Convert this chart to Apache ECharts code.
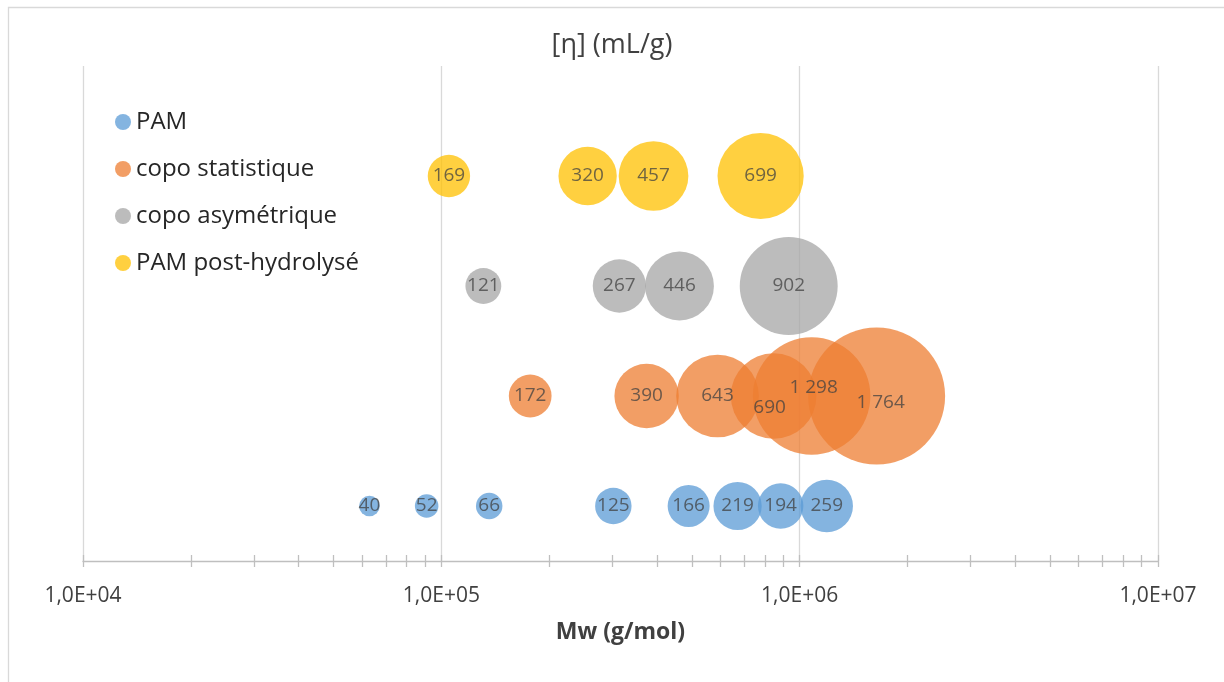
<!DOCTYPE html>
<html><head><meta charset="utf-8">
<script src="https://cdn.jsdelivr.net/npm/echarts@6/dist/echarts.min.js"></script>
<style>html,body{margin:0;padding:0;background:#fff}#c{width:1224px;height:682px}</style>
</head><body><div id="c"></div>
<script>
// ---- data ----
const seriesNames = ['PAM', 'copo statistique', 'copo asymétrique', 'PAM post-hydrolysé'];
const seriesRows = [1, 2, 3, 4];
const pamMw = [63000, 91000, 136000, 302000, 490000, 671000, 885000, 1190000];
const pamEta = [40, 52, 66, 125, 166, 219, 194, 259];
const statMw = [177000, 374000, 590000, 846000, 1080000, 1640000];
const statEta = [172, 390, 643, 690, 1298, 1764];
const asymMw = [131000, 314000, 462000, 932000];
const asymEta = [121, 267, 446, 902];
const hydroMw = [105000, 256000, 391000, 778000];
const hydroEta = [169, 320, 457, 699];
const xTickLabels = ['1,0E+04', '1,0E+05', '1,0E+06', '1,0E+07'];
const xDecades = [1e4, 1e5, 1e6, 1e7];
const chartTitle = '[η] (mL/g)';
const xTitle = 'Mw (g/mol)';

// ---- styling ----
const colors = ['#5B9BD5', '#ED7D31', '#A5A5A5', '#FFC000'];
const labelShift = { 690: [-4, 12], 1298: [2, -8], 1764: [4, 7] };
const K = 3.26;
const FONT = 'Open Sans';
const TXT = '#404040';

const mwSets = [pamMw, statMw, asymMw, hydroMw];
const etaSets = [pamEta, statEta, asymEta, hydroEta];

// minor + major tick values (log decades, 1..9 multiples)
const tickVals = [];
xDecades.forEach((d, i) => {
  if (i < xDecades.length - 1) { for (let m = 1; m < 10; m++) tickVals.push(d * m); }
  else tickVals.push(d);
});

function fmtEta(v) {
  return String(v).replace(/\B(?=(\d{3})+(?!\d))/g, '\u00a0');
}

const series = seriesNames.map((name, s) => ({
  type: 'scatter',
  name: name,
  xAxisIndex: 0,
  yAxisIndex: 0,
  data: mwSets[s].map((m, i) => {
    const item = { value: [m, seriesRows[s], etaSets[s][i]] };
    if (s === 1 && labelShift[etaSets[s][i]]) item.label = { offset: labelShift[etaSets[s][i]] };
    return item;
  }),
  symbolSize: v => K * Math.sqrt(v[2]),
  itemStyle: { color: colors[s], opacity: 0.75, borderWidth: 0 },
  label: {
    show: true, position: 'inside',
    formatter: p => fmtEta(p.value[2]),
    color: TXT, fontSize: 19, fontFamily: FONT
  },
  emphasis: { disabled: true },
  animation: false
}));

const chart = echarts.init(document.getElementById('c'), null, { renderer: 'canvas' });
chart.setOption({
  animation: false,
  backgroundColor: '#ffffff',
  title: {
    text: chartTitle, left: 'center', top: 27,
    textStyle: { fontFamily: FONT, fontSize: 27, fontWeight: 'normal', color: TXT }
  },
  legend: {
    orient: 'vertical', left: 110, top: 105, itemGap: 23,
    icon: 'circle', itemWidth: 16, itemHeight: 16,
    textStyle: { fontFamily: FONT, fontSize: 24, color: '#262626' },
    data: seriesNames
  },
  grid: { left: 83, right: 66, top: 66, bottom: 121, containLabel: false },
  xAxis: [
    {
      type: 'log', logBase: 10, min: 1e4, max: 1e7, gridIndex: 0, position: 'bottom',
      axisLine: { show: true, lineStyle: { color: '#BFBFBF', width: 1.3 } },
      axisTick: { show: false },
      axisLabel: {
        fontFamily: FONT, fontSize: 21, color: TXT, margin: 25,
        formatter: v => xTickLabels[Math.round(Math.log10(v)) - 4]
      },
      splitLine: { show: true, lineStyle: { color: '#D9D9D9', width: 1.3 } },
      name: xTitle, nameLocation: 'middle', nameGap: 60,
      nameTextStyle: { fontFamily: FONT, fontSize: 23, fontWeight: 'bold', color: TXT }
    },
    {
      type: 'log', logBase: 10, min: 1e4, max: 1e7, gridIndex: 0, position: 'bottom',
      axisLine: { show: false },
      axisTick: { show: true, customValues: tickVals, length: 6, inside: false, lineStyle: { color: '#BFBFBF', width: 1.3 } },
      axisLabel: { show: false },
      splitLine: { show: false }
    },
    {
      type: 'log', logBase: 10, min: 1e4, max: 1e7, gridIndex: 0, position: 'bottom',
      axisLine: { show: false },
      axisTick: { show: true, customValues: tickVals, length: 6, inside: true, lineStyle: { color: '#BFBFBF', width: 1.3 } },
      axisLabel: { show: false },
      splitLine: { show: false }
    }
  ],
  yAxis: { type: 'value', min: 0.5, max: 5, show: false, splitLine: { show: false } },
  graphic: [{
    type: 'rect', silent: true, z: -1,
    shape: { x: 8.5, y: 7.5, width: 1240, height: 700 },
    style: { fill: 'none', stroke: '#D9D9D9', lineWidth: 1.3 }
  }],
  series: series
});
</script>
</body></html>
